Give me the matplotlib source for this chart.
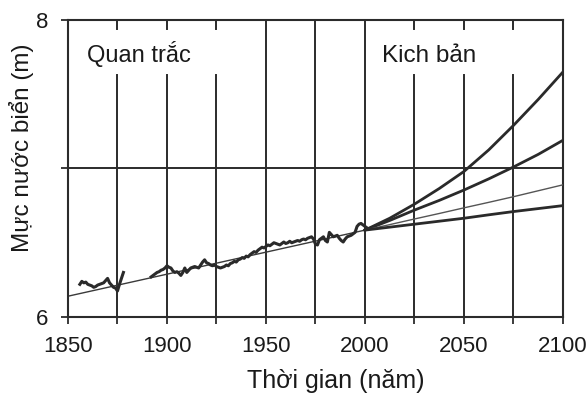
import numpy as np
import matplotlib
matplotlib.use("Agg")
import matplotlib.pyplot as plt

plt.rcParams['font.family'] = ['Liberation Sans', 'DejaVu Sans']

# Observed sea level (m)
obs_years_1 = [1856, 1857, 1858, 1859, 1860, 1861, 1862, 1863, 1864, 1865, 1866, 1867,
               1868, 1869, 1870, 1871, 1872, 1873, 1874, 1875, 1876, 1877, 1878]
obs_vals_1 = [6.22, 6.24, 6.23, 6.235, 6.22, 6.215, 6.21, 6.20, 6.205, 6.215, 6.22, 6.225,
              6.23, 6.245, 6.26, 6.23, 6.215, 6.20, 6.195, 6.175, 6.22, 6.26, 6.30]

obs_years_2 = list(range(1892, 2002))
obs_vals_2 = [6.27, 6.28, 6.29, 6.30, 6.305, 6.315, 6.32, 6.33, 6.345, 6.335,
              6.33, 6.31, 6.30, 6.305, 6.295, 6.28, 6.30, 6.33, 6.30, 6.315,
              6.33, 6.335, 6.34, 6.335, 6.33, 6.35, 6.37, 6.385, 6.365, 6.36,
              6.35, 6.345, 6.35, 6.34, 6.335, 6.33, 6.335, 6.34, 6.35, 6.345,
              6.36, 6.365, 6.375, 6.37, 6.385, 6.39, 6.40, 6.395, 6.41, 6.405,
              6.42, 6.43, 6.44, 6.435, 6.45, 6.46, 6.47, 6.465, 6.475, 6.485,
              6.48, 6.49, 6.50, 6.495, 6.49, 6.485, 6.495, 6.505, 6.495, 6.50,
              6.51, 6.50, 6.505, 6.51, 6.515, 6.51, 6.52, 6.525, 6.52, 6.53,
              6.535, 6.54, 6.525, 6.49, 6.485, 6.52, 6.53, 6.54, 6.515, 6.505,
              6.57, 6.555, 6.54, 6.545, 6.55, 6.53, 6.515, 6.505, 6.525, 6.54,
              6.545, 6.55, 6.56, 6.57, 6.61, 6.625, 6.63, 6.62, 6.61, 6.60]

trend_years = [1850, 2000]
trend_vals = [6.14, 6.585]

scen_years = [2000, 2012.5, 2025, 2037.5, 2050, 2062.5, 2075, 2087.5, 2100]
scen_a = [6.585, 6.665, 6.76, 6.865, 6.98, 7.125, 7.29, 7.465, 7.65]
scen_b = [6.585, 6.65, 6.72, 6.785, 6.855, 6.93, 7.01, 7.095, 7.19]
scen_c = [6.585, 6.622, 6.66, 6.697, 6.735, 6.772, 6.81, 6.85, 6.89]
scen_d = [6.585, 6.605, 6.625, 6.645, 6.665, 6.688, 6.71, 6.73, 6.75]

x_ticks = list(range(1850, 2101, 25))
x_labels = [str(y) if y % 50 == 0 else '' for y in x_ticks]
y_ticks = [6, 7, 8]
y_labels = ['6', '', '8']

fig = plt.figure(figsize=(5.87, 3.99), dpi=100)
ax = fig.add_axes([0.1158, 0.2055, 0.8433, 0.7445])
ax.set_xlim(1850, 2100)
ax.set_ylim(6, 8)

gc = '#2b2b2b'
# vertical grid lines (interrupted behind the two titles)
full_lines = (1950, 1975, 2000)
for x in x_ticks[1:-1]:
    if x in full_lines:
        ax.plot([x, x], [6, 8], color=gc, lw=1.4, zorder=1)
    else:
        ax.plot([x, x], [6, 7.63], color=gc, lw=1.4, zorder=1)
        ax.plot([x, x], [7.94, 8], color=gc, lw=1.4, zorder=1)
ax.axhline(7, color=gc, lw=1.4, zorder=1)

ax.plot(trend_years, trend_vals, color='#3a3a3a', lw=1.0, zorder=2)
ax.plot(obs_years_1, obs_vals_1, color='#2a2a2a', lw=2.2, zorder=3)
ax.plot(obs_years_2, obs_vals_2, color='#2a2a2a', lw=2.2, zorder=3)

ax.plot(scen_years, scen_a, color='#2a2a2a', lw=2.0, zorder=3)
ax.plot(scen_years, scen_b, color='#2a2a2a', lw=2.0, zorder=3)
ax.plot(scen_years, scen_c, color='#555555', lw=1.0, zorder=3)
ax.plot(scen_years, scen_d, color='#2a2a2a', lw=2.0, zorder=3)

ax.text(1859.5, 7.717, 'Quan trắc', fontsize=17, color='#1a1a1a', va='baseline', ha='left')
ax.text(2008.5, 7.717, 'Kich bản', fontsize=17.5, color='#1a1a1a', va='baseline', ha='left')

ax.set_xticks(x_ticks)
ax.set_xticklabels(x_labels)
ax.set_yticks(y_ticks)
ax.set_yticklabels(y_labels)
ax.tick_params(axis='both', direction='out', length=5, width=1.3, color=gc,
               labelsize=16, labelcolor='#1a1a1a')
ax.tick_params(axis='x', pad=9)
ax.tick_params(axis='y', pad=9)

for s in ax.spines.values():
    s.set_linewidth(1.5)
    s.set_color(gc)

fig.text(336 / 587, 1 - 388 / 399, 'Thời gian (năm)', fontsize=18, color='#1a1a1a',
         ha='center', va='baseline')
fig.text(22 / 587, 1 - 148 / 399, 'Mực nước biển (m)', fontsize=17.5, color='#1a1a1a',
         ha='center', va='center', rotation=90)

fig.savefig('out.png', dpi=100)
